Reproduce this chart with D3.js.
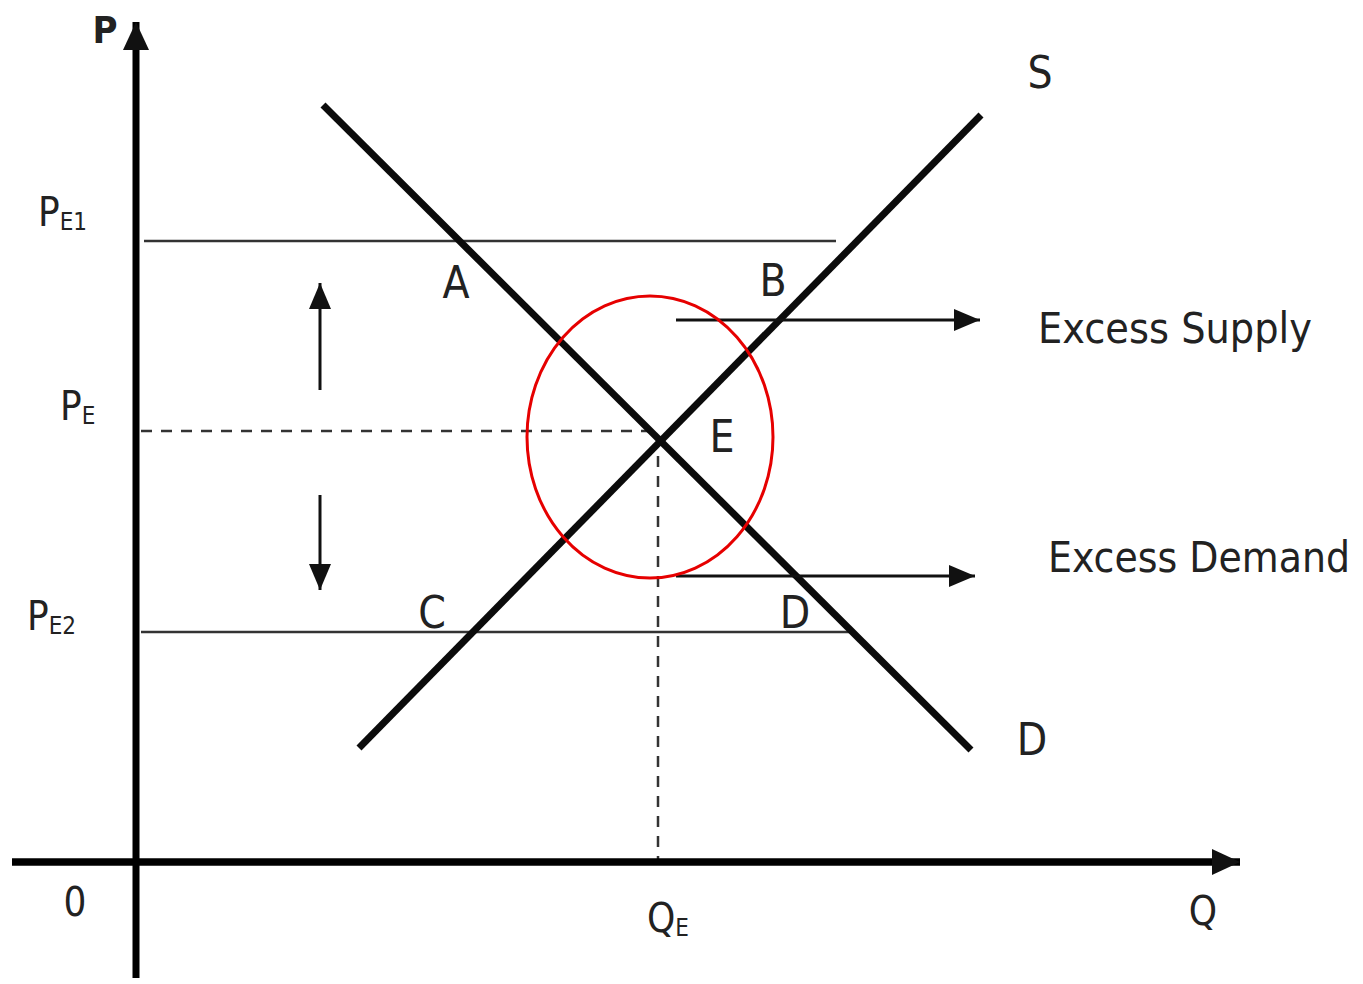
<!DOCTYPE html>
<html>
<head>
<meta charset="utf-8">
<script src="https://cdn.jsdelivr.net/npm/d3@7"></script>
<style>
  body { margin: 0; background: #fff; }
  text { font-family: "DejaVu Sans Condensed", "Liberation Sans Narrow", "DejaVu Sans", sans-serif; fill: #222; }
</style>
</head>
<body>
<svg id="chart"></svg>
<script>
// Canevas
const WIDTH = 1363;
const HEIGHT = 984;
const SVG = d3.select("#chart").attr("width", WIDTH).attr("height", HEIGHT);

// Courbes (quantité, prix)
const DEMAND = [[18.7, 75.7], [83.5, 11.2]];
const SUPPLY = [[22.3, 11.4], [84.5, 74.7]];

// Niveaux de prix horizontaux
const PRICE_LINES = [
  { p: 62.1, q0: 0.8, q1: 70 },
  { p: 23.0, q0: 0.5, q1: 71.5 }
];

// Équilibre
const P_E = 43.1;
const Q_E = 52.2;

// Flèches d'excès
const EXCESS_ARROWS = [
  { p: 54.2, q0: 54.0, q1: 84.4 },
  { p: 28.6, q0: 54.0, q1: 83.9 }
];
// Flèches verticales (haut / bas)
const PRICE_ARROWS = [
  { q: 18.4, p0: 47.2, p1: 57.9 },
  { q: 18.4, p0: 36.7, p1: 27.2 }
];

// Cercle rouge autour de E
const HIGHLIGHT = { q: 51.4, p: 42.5, rq: 12.3, rp: 14.1 };

// Étiquettes de points
const POINT_LABELS = [
  { t: "A", q: 32.0, p: 56.4 },
  { t: "B", q: 63.7, p: 56.6 },
  { t: "C", q: 29.6, p: 23.4 },
  { t: "D", q: 65.9, p: 23.4 },
  { t: "E", q: 58.6, p: 41.0 },
  { t: "S", q: 90.4, p: 77.4 },
  { t: "D", q: 89.6, p: 10.7 }
];
const ANNOTATIONS = [
  { t: "Excess Supply", q: 90.2, p: 51.9, len: 274 },
  { t: "Excess Demand", q: 91.2, p: 29.0, len: 302 }
];
const PRICE_TICKS = [
  { main: "P", sub: "E1", q: -9.8, p: 63.6 },
  { main: "P", sub: "E", q: -7.6, p: 44.2 },
  { main: "P", sub: "E2", q: -10.9, p: 23.2 }
];

// Échelles
const X = d3.scaleLinear().domain([0, 110]).range([136, 1236]);
const Y = d3.scaleLinear().domain([0, 83]).range([862, 32]);
const LINE = d3.line().x(d => X(d[0])).y(d => Y(d[1]));

SVG.append("rect").attr("width", WIDTH).attr("height", HEIGHT).attr("fill", "#fff");

// Pointes de flèche
const DEFS = SVG.append("defs");
function marker(id, w, h) {
  DEFS.append("marker")
    .attr("id", id)
    .attr("viewBox", `0 0 ${w} ${h}`)
    .attr("refX", w).attr("refY", h / 2)
    .attr("markerWidth", w).attr("markerHeight", h)
    .attr("markerUnits", "userSpaceOnUse")
    .attr("orient", "auto")
    .append("path")
    .attr("d", `M0,0L${w},${h / 2}L0,${h}Z`)
    .attr("fill", "#111");
}
marker("head-small", 26, 22);
marker("head-axis", 28, 26);

// Lignes de prix PE1 / PE2
SVG.selectAll("line.price")
  .data(PRICE_LINES)
  .enter().append("line")
  .attr("class", "price")
  .attr("x1", d => X(d.q0)).attr("x2", d => X(d.q1))
  .attr("y1", d => Y(d.p)).attr("y2", d => Y(d.p))
  .attr("stroke", "#333").attr("stroke-width", 2.5);

// Pointillés de l'équilibre
SVG.append("path")
  .attr("d", LINE([[0.5, P_E], [Q_E, P_E]]))
  .attr("stroke", "#333").attr("stroke-width", 2.5)
  .attr("stroke-dasharray", "11,9").attr("fill", "none");
SVG.append("path")
  .attr("d", LINE([[Q_E, P_E - 0.5], [Q_E, 0]]))
  .attr("stroke", "#333").attr("stroke-width", 2.5)
  .attr("stroke-dasharray", "11,9").attr("fill", "none");

// Offre et demande
[DEMAND, SUPPLY].forEach(curve => {
  SVG.append("path")
    .attr("d", LINE(curve))
    .attr("stroke", "#0b0b0b").attr("stroke-width", 7)
    .attr("fill", "none");
});

// Flèches d'excès
SVG.selectAll("line.excess")
  .data(EXCESS_ARROWS)
  .enter().append("line")
  .attr("class", "excess")
  .attr("x1", d => X(d.q0)).attr("x2", d => X(d.q1))
  .attr("y1", d => Y(d.p)).attr("y2", d => Y(d.p))
  .attr("stroke", "#111").attr("stroke-width", 3)
  .attr("marker-end", "url(#head-small)");

// Flèches haut / bas
SVG.selectAll("line.move")
  .data(PRICE_ARROWS)
  .enter().append("line")
  .attr("class", "move")
  .attr("x1", d => X(d.q)).attr("x2", d => X(d.q))
  .attr("y1", d => Y(d.p0)).attr("y2", d => Y(d.p1))
  .attr("stroke", "#111").attr("stroke-width", 3)
  .attr("marker-end", "url(#head-small)");

// Axes
SVG.append("path")
  .attr("d", LINE([[0, -11.6], [0, 84]]))
  .attr("stroke", "#000").attr("stroke-width", 7)
  .attr("marker-end", "url(#head-axis)");
SVG.append("path")
  .attr("d", LINE([[-12.4, 0], [110.4, 0]]))
  .attr("stroke", "#000").attr("stroke-width", 7.5)
  .attr("marker-end", "url(#head-axis)");

// Ellipse rouge
SVG.append("ellipse")
  .attr("cx", X(HIGHLIGHT.q)).attr("cy", Y(HIGHLIGHT.p))
  .attr("rx", X(HIGHLIGHT.rq) - X(0)).attr("ry", Y(0) - Y(HIGHLIGHT.rp))
  .attr("fill", "none").attr("stroke", "#e60000").attr("stroke-width", 3);

// Étiquettes des points
SVG.selectAll("text.pt")
  .data(POINT_LABELS)
  .enter().append("text")
  .attr("class", "pt")
  .attr("x", d => X(d.q)).attr("y", d => Y(d.p))
  .attr("text-anchor", "middle")
  .attr("font-size", 44)
  .text(d => d.t);

// Textes Excess Supply / Demand
SVG.selectAll("text.ann")
  .data(ANNOTATIONS)
  .enter().append("text")
  .attr("class", "ann")
  .attr("x", d => X(d.q)).attr("y", d => Y(d.p))
  .attr("font-size", 42)
  .attr("textLength", d => d.len)
  .attr("lengthAdjust", "spacingAndGlyphs")
  .text(d => d.t);

// Repères de prix
const TICKS = SVG.selectAll("text.tick")
  .data(PRICE_TICKS)
  .enter().append("text")
  .attr("class", "tick")
  .attr("x", d => X(d.q)).attr("y", d => Y(d.p))
  .attr("font-size", 40);
TICKS.append("tspan").text(d => d.main);
TICKS.append("tspan").attr("font-size", 24).attr("dy", 4).text(d => d.sub);

// Titres des axes et origine
SVG.append("text")
  .attr("x", X(-3.1)).attr("y", Y(81.9))
  .attr("text-anchor", "middle")
  .attr("font-size", 38).attr("font-weight", "bold")
  .attr("fill", "#111")
  .text("P");
SVG.append("text")
  .attr("x", X(-6.1)).attr("y", Y(-5.4))
  .attr("text-anchor", "middle")
  .attr("font-size", 40)
  .text("0");
const QE_LABEL = SVG.append("text")
  .attr("x", X(51.1)).attr("y", Y(-7.0))
  .attr("font-size", 40);
QE_LABEL.append("tspan").text("Q");
QE_LABEL.append("tspan").attr("font-size", 24).attr("dy", 4).text("E");
SVG.append("text")
  .attr("x", X(106.7)).attr("y", Y(-6.3))
  .attr("text-anchor", "middle")
  .attr("font-size", 40)
  .text("Q");
</script>
</body>
</html>
